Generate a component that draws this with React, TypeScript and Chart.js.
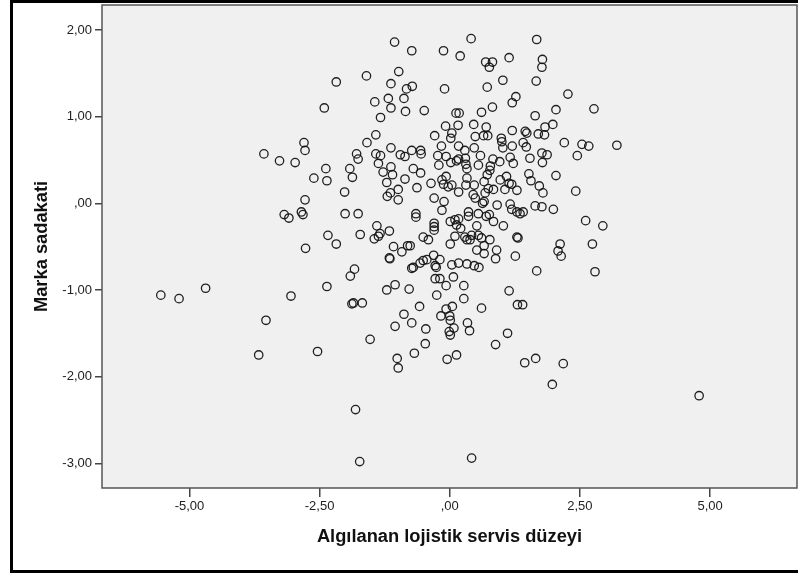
import { useEffect, useRef } from "react";
import { Chart, registerables } from "chart.js";

Chart.register(...registerables);

// Perceived logistics service level (x) for each respondent
const servisDuzeyi = [
  -2.41, -2.80, -2.78, -3.57, -3.27, -2.97, -2.38, -2.61, -2.36, -2.78,
  -3.18, -3.09, -2.85, -2.82, -2.34, -2.77, -5.55, -5.20, -4.69, -3.05,
  -2.36, -3.53, -3.67, -2.54,
  -1.06, 0.41, 1.67, -0.73, -0.12, 0.20, 1.14, 0.69, 0.82, 0.76,
  1.78, 1.77, -0.98, -1.60, -2.18, 1.02, 1.66, -1.13, -0.72, -0.83,
  -0.10, 0.72, 1.27, 1.20, -1.18, -0.88, -1.44, -1.13, -0.85, -0.49,
  0.82, 0.61, 0.12, 0.18, 2.04, -1.33, 1.64, 1.98, 1.83, -0.08,
  0.16, 0.46, 0.70, 1.20, 1.45, 1.48, 1.70, 1.82, -1.42, -0.29,
  0.04, 0.02, 0.49, 0.65, 0.73, 0.99, 1.00, -1.59, 1.41, 1.47,
  -1.13, -0.16, 0.17, 0.47, 1.02, 1.20, -0.73, -0.56, -0.55, 0.29,
  -1.79, -1.76, -1.42, -1.33, -0.95, -0.86, -0.23, -0.07, 0.17, 0.30,
  0.59, 1.16, 1.54, 1.77, 1.87, 1.78, 0.83, 0.96, 1.22, -1.37,
  -1.13, -1.92, -0.21, 0.02, 0.13, 0.31, 0.55, 0.78, -0.70, -0.56,
  0.33, 0.77, -1.87, -1.28, -1.10, -1.21, -0.99, -1.14, -1.20, -0.99,
  -0.86, -0.63, -2.02, -0.36, -0.15, -0.07, -0.12, -0.03, 0.04, 0.17,
  0.33, 0.31, 0.47, 0.45, 0.49, 0.72, 0.66, 0.74, 0.84, 0.68,
  0.63, 0.66, 0.97, 1.09, 1.14, 1.19, 1.29, 1.06, 1.52, 1.56,
  1.72, 1.79, 2.04, -0.30, -0.11, -0.15, -2.01, -1.76, -0.65, -0.65,
  0.36, 0.36, 0.55, 0.76, 0.70, 0.84, 1.03, 0.91, 1.16, 1.19,
  1.29, 1.35, 1.41, 1.64, 1.77, 1.99, 0.01, 0.10, 0.17, 0.13,
  0.21, -0.30, -0.30, -0.30, -1.40, -1.34, -1.37, -1.45, -1.16,
  -2.18, -1.72, -0.51, -0.41, 0.10, 0.01, 0.29, 0.39, 0.33, 0.42,
  0.52, 0.55, 0.61, 0.77, 0.66, 0.52, 0.66, 0.90, 0.88, 1.29,
  1.31, 2.12, 2.08, 2.14, 1.26, 1.67, -1.08, -0.92, -0.81, -0.76,
  -1.16, -1.15, -0.51, -0.44, -0.31, -0.19, -0.28, -0.26, -0.57, -0.70,
  -0.73, 0.04, 0.17, 0.33, 0.47, 0.56, -1.83, -1.91, -0.28, -0.19,
  0.07, -0.07, 0.27, -1.05, -1.21, -0.78, -0.25, 0.27, 1.14, -1.88,
  -1.85, -1.68, -0.58, -0.88, -0.07, 0.05, 0.61, 1.30, 1.40, -0.17,
  0.00, -1.05, -0.73, -1.53, -0.46, 0.01, -0.01, 0.01, 0.08, 0.34,
  0.38, 1.11, 0.88, -0.47, -0.68, -1.01, -0.99, -0.05, 0.13, 1.44,
  1.65, 2.18, 1.97, -1.81, -1.73, 0.42, 2.27, 2.77, 2.20, 2.54,
  2.67, 3.21, 2.45, 2.42, 2.61, 2.94, 2.74, 2.79, 4.79,
];

// Brand loyalty (y) for the same respondents, same order
const markaSadakati = [
  1.10, 0.70, 0.61, 0.57, 0.49, 0.47, 0.40, 0.29, 0.26, 0.04,
  -0.13, -0.17, -0.10, -0.13, -0.37, -0.52, -1.06, -1.10, -0.98, -1.07,
  -0.96, -1.35, -1.75, -1.71,
  1.86, 1.90, 1.89, 1.76, 1.76, 1.70, 1.68, 1.63, 1.63, 1.57,
  1.66, 1.57, 1.52, 1.47, 1.40, 1.42, 1.41, 1.38, 1.35, 1.32,
  1.32, 1.34, 1.23, 1.16, 1.21, 1.21, 1.17, 1.10, 1.06, 1.07,
  1.11, 1.05, 1.04, 1.04, 1.08, 0.99, 1.01, 0.91, 0.88, 0.89,
  0.90, 0.91, 0.88, 0.84, 0.83, 0.81, 0.80, 0.79, 0.79, 0.78,
  0.81, 0.75, 0.77, 0.78, 0.78, 0.75, 0.71, 0.70, 0.70, 0.65,
  0.64, 0.66, 0.66, 0.64, 0.64, 0.66, 0.61, 0.61, 0.57, 0.61,
  0.57, 0.51, 0.57, 0.55, 0.56, 0.54, 0.55, 0.54, 0.51, 0.52,
  0.55, 0.53, 0.52, 0.58, 0.56, 0.47, 0.51, 0.48, 0.46, 0.46,
  0.42, 0.40, 0.44, 0.47, 0.49, 0.45, 0.44, 0.43, 0.40, 0.35,
  0.40, 0.38, 0.30, 0.36, 0.33, 0.24, 0.16, 0.12, 0.08, 0.04,
  0.28, 0.18, 0.13, 0.23, 0.27, 0.31, 0.22, 0.19, 0.21, 0.13,
  0.29, 0.21, 0.21, 0.10, 0.06, 0.33, 0.25, 0.17, 0.16, 0.12,
  0.00, 0.02, 0.27, 0.31, 0.23, 0.22, 0.15, 0.16, 0.34, 0.26,
  0.20, 0.12, 0.32, 0.06, 0.02, -0.08, -0.12, -0.12, -0.12, -0.16,
  -0.10, -0.15, -0.12, -0.13, -0.15, -0.21, -0.26, -0.02, -0.01, -0.07,
  -0.10, -0.12, -0.10, -0.03, -0.04, -0.07, -0.21, -0.19, -0.18, -0.25,
  -0.29, -0.23, -0.27, -0.31, -0.26, -0.35, -0.38, -0.41, -0.32,
  -0.47, -0.36, -0.39, -0.42, -0.38, -0.47, -0.39, -0.42, -0.42, -0.37,
  -0.26, -0.37, -0.40, -0.42, -0.49, -0.54, -0.58, -0.54, -0.64, -0.39,
  -0.40, -0.47, -0.55, -0.61, -0.61, -0.78, -0.50, -0.56, -0.49, -0.49,
  -0.63, -0.64, -0.66, -0.65, -0.60, -0.65, -0.72, -0.74, -0.69, -0.74,
  -0.75, -0.71, -0.69, -0.70, -0.72, -0.74, -0.76, -0.84, -0.87, -0.87,
  -0.85, -0.95, -0.95, -0.94, -1.00, -0.99, -1.06, -1.10, -1.01, -1.16,
  -1.15, -1.15, -1.19, -1.28, -1.22, -1.19, -1.21, -1.17, -1.17, -1.30,
  -1.30, -1.42, -1.38, -1.57, -1.45, -1.35, -1.48, -1.52, -1.44, -1.38,
  -1.47, -1.50, -1.63, -1.62, -1.73, -1.79, -1.90, -1.80, -1.75, -1.84,
  -1.79, -1.85, -2.09, -2.38, -2.98, -2.94, 1.26, 1.09, 0.70, 0.68,
  0.66, 0.67, 0.55, 0.14, -0.20, -0.26, -0.47, -0.79, -2.22,
];

const xTickValues = [-5, -2.5, 0, 2.5, 5];
const xTickLabels = ["-5,00", "-2,50", ",00", "2,50", "5,00"];
const yTickValues = [2, 1, 0, -1, -2, -3];
const yTickLabels = ["2,00", "1,00", ",00", "-1,00", "-2,00", "-3,00"];

const xTitle = "Algılanan lojistik servis düzeyi";
const yTitle = "Marka sadakati";

const X_MIN = -6.68;
const X_MAX = 6.67;
const Y_MIN = -3.285;
const Y_MAX = 2.288;

const FONT = "'Liberation Sans', Arial, sans-serif";
const TITLE_SIZE = 18.3;

// Page background, black outer frame, grey plot panel and its border
const framePlugin = {
  id: "spssFrame",
  beforeDraw(chart: Chart) {
    const { ctx, chartArea, width, height } = chart;
    ctx.save();
    ctx.fillStyle = "#ffffff";
    ctx.fillRect(0, 0, width, height);
    ctx.fillStyle = "#000000";
    ctx.fillRect(10, 0, width - 10, 3);
    ctx.fillRect(10, 0, 3, 573);
    ctx.fillRect(10, 570, width - 10, 3);
    ctx.fillStyle = "#f0f0f0";
    ctx.fillRect(
      chartArea.left,
      chartArea.top,
      chartArea.right - chartArea.left,
      chartArea.bottom - chartArea.top
    );
    ctx.restore();
  },
  afterDraw(chart: Chart) {
    const { ctx, chartArea } = chart;
    ctx.save();
    ctx.strokeStyle = "#555555";
    ctx.lineWidth = 1.5;
    ctx.strokeRect(
      chartArea.left,
      chartArea.top,
      chartArea.right - chartArea.left,
      chartArea.bottom - chartArea.top
    );
    ctx.restore();
  },
};

export default function App() {
  const canvasRef = useRef<HTMLCanvasElement | null>(null);

  useEffect(() => {
    const canvas = canvasRef.current;
    if (!canvas) return;

    const points = servisDuzeyi.map((x, i) => ({ x, y: markaSadakati[i] }));

    const chart = new Chart(canvas, {
      type: "scatter",
      data: {
        datasets: [
          {
            data: points,
            pointStyle: "circle",
            pointRadius: 4.2,
            pointHoverRadius: 4.2,
            pointBorderWidth: 1.3,
            borderColor: "rgba(20,20,20,0.95)",
            backgroundColor: "rgba(0,0,0,0)",
          },
        ],
      },
      options: {
        responsive: false,
        animation: false,
        devicePixelRatio: 1,
        layout: { autoPadding: false, padding: { left: 13, top: 5, right: 1, bottom: 5 } },
        plugins: {
          legend: { display: false },
          tooltip: { enabled: false },
          title: { display: false },
        },
        scales: {
          x: {
            type: "linear",
            position: "bottom",
            min: X_MIN,
            max: X_MAX,
            afterBuildTicks: (scale: any) => {
              scale.ticks = xTickValues.map((value) => ({ value }));
            },
            afterFit: (scale: any) => {
              scale.height = 82;
              scale.paddingLeft = 0;
              scale.paddingRight = 0;
            },
            border: { display: false },
            grid: {
              drawOnChartArea: false,
              drawTicks: true,
              tickLength: 9,
              color: "#444444",
              lineWidth: 1.5,
            },
            ticks: {
              autoSkip: false,
              maxRotation: 0,
              padding: 2,
              color: "#222222",
              font: { family: FONT, size: 13 },
              callback: (value: any) => {
                const i = xTickValues.indexOf(Number(value));
                return i >= 0 ? xTickLabels[i] : "";
              },
            },
            title: {
              display: true,
              text: xTitle,
              color: "#111111",
              font: { family: FONT, size: TITLE_SIZE, weight: "bold" },
              padding: { top: 0, bottom: 22 },
            },
          },
          y: {
            type: "linear",
            position: "left",
            min: Y_MIN,
            max: Y_MAX,
            afterBuildTicks: (scale: any) => {
              scale.ticks = yTickValues.map((value) => ({ value }));
            },
            afterFit: (scale: any) => {
              scale.width = 89;
              scale.paddingTop = 0;
              scale.paddingBottom = 0;
            },
            border: { display: false },
            grid: {
              drawOnChartArea: false,
              drawTicks: true,
              tickLength: 7,
              color: "#444444",
              lineWidth: 1.5,
            },
            ticks: {
              autoSkip: false,
              padding: 3,
              color: "#222222",
              font: { family: FONT, size: 13 },
              callback: (value: any) => {
                const i = yTickValues.indexOf(Number(value));
                return i >= 0 ? yTickLabels[i] : "";
              },
            },
            title: {
              display: true,
              text: yTitle,
              color: "#111111",
              font: { family: FONT, size: TITLE_SIZE, weight: "bold" },
              padding: { top: 18, bottom: 0 },
            },
          },
        },
      },
      plugins: [framePlugin],
    });

    return () => chart.destroy();
  }, []);

  return (
    <div
      style={{
        position: "absolute",
        left: 0,
        top: 0,
        width: 798,
        height: 575,
        background: "#ffffff",
      }}
    >
      <canvas ref={canvasRef} width={798} height={575} />
    </div>
  );
}
